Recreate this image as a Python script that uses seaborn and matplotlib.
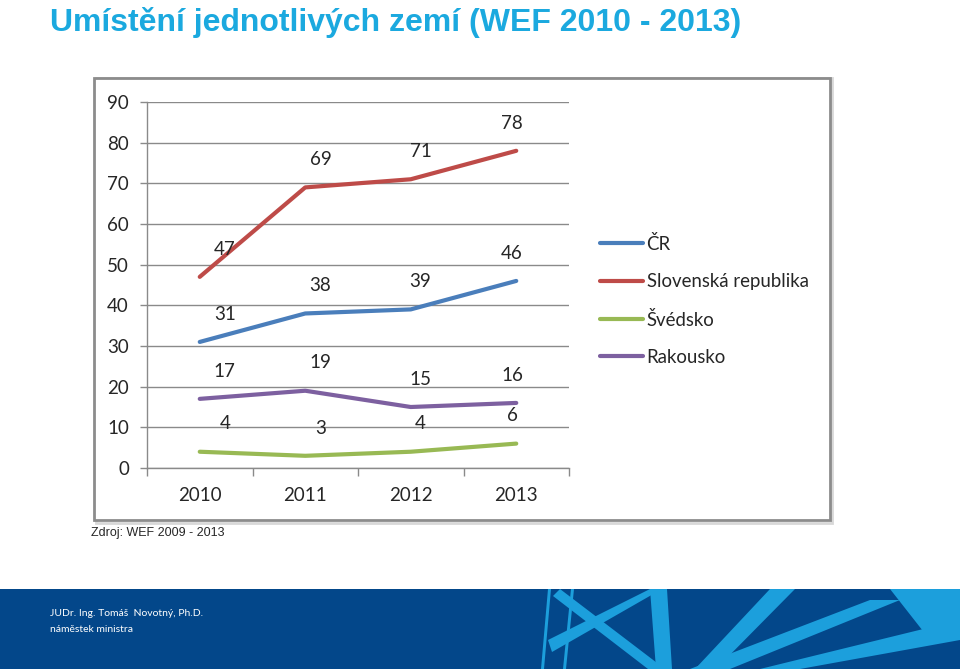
import pandas as pd
import matplotlib.pyplot as plt
import seaborn as sns
from matplotlib.patches import Rectangle, Polygon

# data
years = ["2010", "2011", "2012", "2013"]
countries = ["ČR", "Slovenská republika", "Švédsko", "Rakousko"]
cr = [31, 38, 39, 46]
sk = [47, 69, 71, 78]
se = [4, 3, 4, 6]
at = [17, 19, 15, 16]

colors = {"ČR": "#4a7ebb", "Slovenská republika": "#be4b48",
          "Švédsko": "#98b954", "Rakousko": "#7d60a0"}
label_dx = [18, 11, 7, -3]  # horizontal nudge of the value labels (points)

df = pd.DataFrame({
    "rok": years * 4,
    "pořadí": cr + sk + se + at,
    "země": [c for c in countries for _ in years],
})

sns.set_style("white")
plt.rcParams["font.family"] = ["Lato", "DejaVu Sans"]

W, H = 960, 669
fig = plt.figure(figsize=(W / 100, H / 100), dpi=100)


def fx(px):
    return px / W


def fy(py):
    return 1 - py / H


# title
fig.text(fx(50), fy(31), "Umístění jednotlivých zemí (WEF 2010 - 2013)",
         fontsize=23, fontweight="bold", color="#1ba9df",
         family=["Liberation Sans", "DejaVu Sans"], va="baseline")

# chart frame with a light shadow (kept behind the axes)
fig.add_artist(Rectangle((fx(96), fy(523)), fx(736), 445 / H, transform=fig.transFigure,
                         facecolor="none", edgecolor="#d8d8d8", lw=2, zorder=-2))
fig.add_artist(Rectangle((fx(94), fy(520)), fx(736), 442 / H, transform=fig.transFigure,
                         facecolor="white", edgecolor="#8c8c8c", lw=2, zorder=-1))

ax = fig.add_axes([fx(147), fy(468), fx(422), 366 / H])
ax.set_zorder(1)
sns.lineplot(data=df, x="rok", y="pořadí", hue="země", palette=colors,
             lw=3, legend=False, ax=ax, sort=False)

for name, vals in zip(countries, [cr, sk, se, at]):
    for i, v in enumerate(vals):
        ax.annotate(str(v), (i, v), xytext=(label_dx[i], 20), textcoords="offset points",
                    ha="center", va="center", fontsize=13.5, color="#262626")

ax.set_xlim(-0.5, 3.5)
ax.set_ylim(0, 90)
ax.set_yticks(range(0, 91, 10))
ax.set_xticks(range(4))
ax.set_xticklabels(years)
ax.set_xticks([-0.5, 0.5, 1.5, 2.5, 3.5], minor=True)
ax.grid(axis="y", color="#8a8a8a", lw=1)
ax.grid(axis="x", visible=False)
ax.set_xlabel("")
ax.set_ylabel("")
ax.set_facecolor("none")
for s in ["top", "right"]:
    ax.spines[s].set_visible(False)
for s in ["left", "bottom"]:
    ax.spines[s].set_color("#8a8a8a")
    ax.spines[s].set_linewidth(1)
ax.tick_params(axis="y", left=True, length=5, width=1, color="#8a8a8a", pad=8,
               labelsize=13.5, labelcolor="#262626")
ax.tick_params(axis="x", which="major", length=0, pad=14, labelsize=13.5, labelcolor="#262626")
ax.tick_params(axis="x", which="minor", bottom=True, length=6, width=1, color="#8a8a8a")

handles = [plt.Line2D([], [], color=colors[c], lw=3) for c in countries]
leg = fig.legend(handles, countries, loc="upper left", bbox_to_anchor=(fx(600), fy(235)),
                 frameon=False, fontsize=13.4, handlelength=2.3, handletextpad=0.2,
                 labelspacing=1.09, borderaxespad=0, borderpad=0)
leg.set_zorder(2)

fig.text(fx(91), fy(533), "Zdroj: WEF 2009 - 2013", fontsize=9, va="center",
         family=["Liberation Sans", "DejaVu Sans"])

# footer band
fa = fig.add_axes([0, 0, 1, 80 / H])
fa.set_xlim(0, W)
fa.set_ylim(669, 589)
fa.axis("off")
fa.add_patch(Rectangle((0, 589), W, 80, facecolor="#03478a", edgecolor="none"))
light = "#1c9fdc"
shapes = [
    [(548, 589), (551, 589), (544, 669), (541, 669)],
    [(571, 589), (574, 589), (566, 669), (563, 669)],
    [(553, 596), (560, 589), (665, 669), (648, 669)],
    [(548, 640), (650, 589), (662, 589), (552, 652)],
    [(650, 589), (667, 589), (672, 669), (656, 669)],
    [(770, 589), (795, 589), (716, 669), (695, 669)],
    [(690, 669), (870, 600), (900, 600), (730, 669)],
    [(890, 589), (960, 589), (960, 640), (930, 640)],
    [(760, 669), (960, 620), (960, 640), (800, 669)],
]
for pts in shapes:
    fa.add_patch(Polygon(pts, closed=True, facecolor=light, edgecolor="none"))
fa.text(50, 614, "JUDr. Ing. Tomáš  Novotný, Ph.D.", color="white", fontsize=7.5, va="center")
fa.text(50, 630, "náměstek ministra", color="white", fontsize=7.5, va="center")

fig.savefig("out.png", dpi=100)
